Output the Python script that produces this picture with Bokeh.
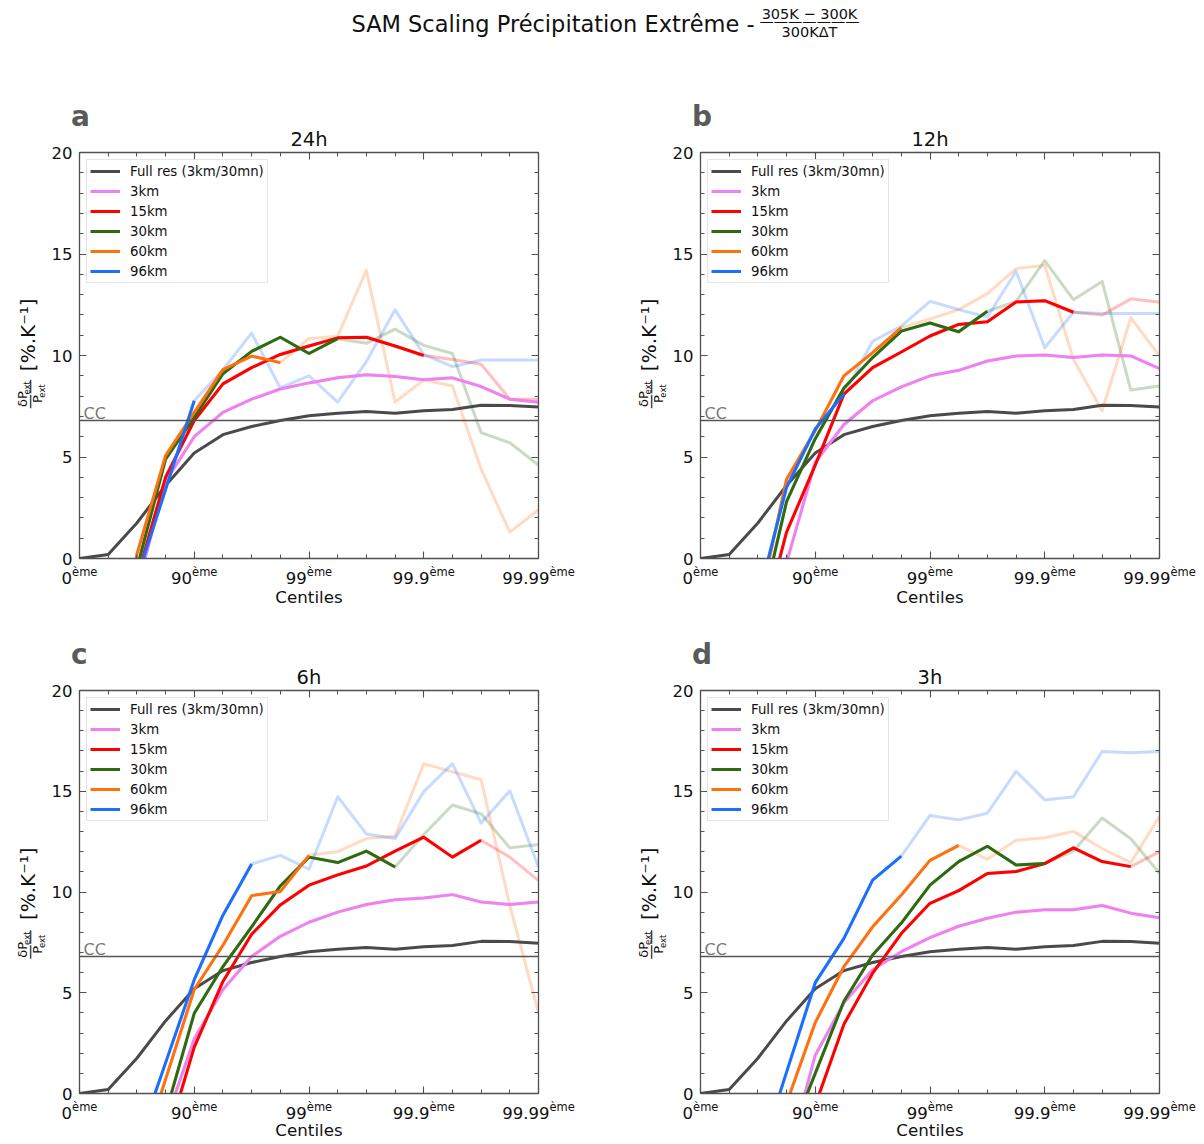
import numpy as np
from bokeh.plotting import figure
from bokeh.models import (Range1d, LinearAxis, FixedTicker, SingleIntervalTicker,
                          Span, Label, Legend, LegendItem, Title)
from bokeh.layouts import column, row
from bokeh.embed import file_html
from bokeh.resources import INLINE

NAN = float("nan")
NBSP = "\u00a0"

# ---------------- data ----------------
# x coordinate = -log10(1 - centile/100)
centile_pos = [0.0, 0.25, 0.5, 0.75, 1.0, 1.25, 1.5, 1.75, 2.0,
               2.25, 2.5, 2.75, 3.0, 3.25, 3.5, 3.75, 4.0]
tick_pos = [0, 1, 2, 3, 4]
tick_numbers = ["0", "90", "99", "99.9", "99.99"]
tick_suffix = "ème"

full_res_label = "Full res (3km/30mn)"
series_labels = ["3km", "15km", "30km", "60km", "96km"]
cc_rate = 6.8

full_res = [0.0, 0.2, 1.75, 3.6, 5.2, 6.1, 6.5, 6.8, 7.03, 7.16, 7.24, 7.16, 7.28, 7.34, 7.55, 7.54, 7.46]

# panel a : 24h
a_3km = [NAN, NAN, -1.5, 3.8, 6.0, 7.2, 7.85, 8.35, 8.65, 8.9, 9.05, 8.96, 8.8, 8.9, 8.47, 7.85, 7.7]
a_15km = [NAN, NAN, -1.0, 4.0, 6.8, 8.6, 9.4, 10.05, 10.47, 10.87, 10.9, 10.47, 10.0, 9.8, 9.57, 7.85, 7.85]
a_30km = [NAN, NAN, -0.5, 4.9, 6.95, 9.1, 10.2, 10.9, 10.1, 10.83, 10.6, 11.3, 10.5, 10.1, 6.2, 5.7, 4.6]
a_60km = [NAN, -8.0, 0.2, 5.07, 7.2, 9.3, 9.97, 9.65, 10.83, 10.95, 14.2, 7.7, 8.8, 8.5, 4.4, 1.3, 2.4]
a_96km = [NAN, NAN, -1.0, 3.4, 7.77, 9.3, 11.1, 8.4, 9.0, 7.7, 9.7, 12.25, 10.05, 9.45, 9.78, 9.78, 9.78]
a_valid_until = [4.0, 3.0, 2.25, 1.75, 1.0]

# panel b : 12h
b_3km = [NAN, NAN, -6.0, -0.2, 4.74, 6.6, 7.77, 8.45, 9.0, 9.27, 9.73, 9.98, 10.02, 9.9, 10.02, 9.98, 9.35]
b_15km = [NAN, NAN, -4.1, 1.3, 4.6, 8.1, 9.4, 10.17, 10.96, 11.53, 11.66, 12.64, 12.7, 12.13, 11.99, 12.79, 12.62]
b_30km = [NAN, NAN, -3.3, 2.8, 5.9, 8.4, 9.9, 11.2, 11.6, 11.17, 12.18, 12.67, 14.67, 12.75, 13.65, 8.3, 8.5]
b_60km = [NAN, NAN, -2.6, 3.9, 6.3, 9.0, 10.14, 11.37, 11.8, 12.26, 13.05, 14.28, 14.44, 9.81, 7.28, 11.86, 9.98]
b_96km = [NAN, NAN, -2.0, 3.5, 6.38, 8.1, 10.7, 11.45, 12.67, 12.26, 11.9, 14.15, 10.38, 12.13, 12.07, 12.07, 12.07]
b_valid_until = [4.0, 3.25, 2.5, 1.75, 1.25]

# panel c : 6h
c_3km = [NAN, NAN, NAN, -1.4, 2.7, 5.16, 6.8, 7.8, 8.5, 9.0, 9.38, 9.62, 9.7, 9.87, 9.5, 9.38, 9.5]
c_15km = [NAN, NAN, NAN, -2.5, 2.3, 5.56, 7.9, 9.36, 10.34, 10.85, 11.29, 12.03, 12.72, 11.73, 12.57, 11.73, 10.56]
c_30km = [NAN, NAN, NAN, -1.0, 3.98, 6.3, 8.27, 10.3, 11.73, 11.46, 12.03, 11.24, 12.85, 14.32, 13.88, 12.19, 12.36]
c_60km = [NAN, NAN, -3.7, 0.7, 5.16, 7.36, 9.82, 10.02, 11.82, 12.0, 12.65, 12.77, 16.37, 15.96, 15.58, 9.33, 4.0]
c_96km = [NAN, NAN, -2.6, 1.52, 5.65, 8.85, 11.39, 11.82, 11.13, 14.73, 12.88, 12.65, 14.98, 16.37, 13.42, 15.02, 11.24]
c_valid_until = [4.0, 3.5, 2.75, 2.0, 1.5]

# panel d : 3h
d_3km = [NAN, NAN, NAN, -3.4, 1.9, 4.5, 6.14, 7.04, 7.74, 8.3, 8.7, 9.0, 9.12, 9.12, 9.33, 8.95, 8.72]
d_15km = [NAN, NAN, NAN, -4.6, -0.58, 3.44, 5.97, 7.94, 9.44, 10.07, 10.92, 11.02, 11.41, 12.19, 11.51, 11.26, 12.0]
d_30km = [NAN, NAN, NAN, -2.6, 1.0, 4.58, 6.87, 8.46, 10.34, 11.51, 12.27, 11.34, 11.42, 12.03, 13.67, 12.64, 10.93]
d_60km = [NAN, NAN, -4.5, -0.48, 3.52, 6.3, 8.27, 9.85, 11.57, 12.31, 11.62, 12.57, 12.69, 13.01, 12.16, 11.46, 13.75]
d_96km = [NAN, NAN, -3.4, 1.06, 5.5, 7.7, 10.59, 11.78, 13.8, 13.58, 13.91, 15.99, 14.57, 14.73, 16.97, 16.91, 16.97]
d_valid_until = [4.0, 3.75, 3.0, 2.25, 1.75]

panel_letters = ["a", "b", "c", "d"]
panel_titles = ["24h", "12h", "6h", "3h"]
panel_series = [
    [a_3km, a_15km, a_30km, a_60km, a_96km],
    [b_3km, b_15km, b_30km, b_60km, b_96km],
    [c_3km, c_15km, c_30km, c_60km, c_96km],
    [d_3km, d_15km, d_30km, d_60km, d_96km],
]
panel_valid = [a_valid_until, b_valid_until, c_valid_until, d_valid_until]

# ---------------- style ----------------
FONT = "DejaVu Sans"
TXT = "#111111"
AX = "#505050"
FULL_COLOR = "#4a4a4a"
COLORS = ["#ee82ee", "#ff0000", "#2d6a10", "#ff7010", "#1a6fff"]
FRAME_W, FRAME_H = 459, 406
PX_X = FRAME_W / 4.0


def lab(**kw):
    base = dict(text_font=FONT, text_color=TXT, text_baseline="alphabetic")
    base.update(kw)
    return Label(**base)


def text_axis(ticks, overrides, fs, standoff):
    return LinearAxis(ticker=FixedTicker(ticks=ticks, minor_ticks=[]),
                      major_label_overrides=overrides,
                      major_label_standoff=standoff,
                      major_label_text_font=FONT,
                      major_label_text_font_size=f"{fs}px",
                      major_label_text_color=TXT,
                      axis_line_color=None, major_tick_line_color=None,
                      minor_tick_line_color=None, major_tick_in=0, major_tick_out=0,
                      minor_tick_in=0, minor_tick_out=0)


def blank_fig(w, h):
    return figure(width=w, height=h, x_range=Range1d(0, w), y_range=Range1d(0, h),
                  x_axis_type=None, y_axis_type=None, min_border=0, title=None,
                  outline_line_color=None, toolbar_location=None, output_backend="svg")


def ylabel_strip(w, h, bb, shift):
    """Rotated y label (dP_ext / P_ext) [%.K^-1] in a narrow strip left of a panel.
    Positions are centres of each piece: (px across, px above the panel frame bottom)."""
    s = blank_fig(w, h)
    rot = dict(angle=90, angle_units="deg", text_align="center")
    pieces = [("δP", 13, 22.2, 137.0), ("ext", 8.5, 26.9, 151.7),
              ("P", 13, 36.6, 137.0), ("ext", 8.5, 41.0, 147.7),
              ("——", 15, 29.9, 143.8), ("[%.K⁻¹]", 20, 27.7, 221.0)]
    for txt, fs, cx, cy in pieces:
        s.add_layout(lab(x=cx + shift, y=bb + cy, text=txt,
                         text_font_size=f"{fs}px", **rot))
    return s


def make_panel(letter, title, series, valid_until, lb, rb, tb, bb, centiles_standoff):
    p = figure(width=lb + FRAME_W + rb, height=tb + FRAME_H + bb,
               x_range=Range1d(0, 4), y_range=Range1d(0, 20),
               output_backend="svg", toolbar_location=None, title=None,
               min_border_left=lb, min_border_right=rb,
               min_border_top=tb, min_border_bottom=bb,
               outline_line_color=None,
               background_fill_color="white", border_fill_color="white")
    p.xgrid.visible = False
    p.ygrid.visible = False
    bottom = p.xaxis[0]
    left = p.yaxis[0]
    bottom.ticker = FixedTicker(ticks=tick_pos, minor_ticks=centile_pos)
    left.ticker = SingleIntervalTicker(interval=5, num_minor_ticks=5)
    top = LinearAxis(ticker=FixedTicker(ticks=tick_pos, minor_ticks=centile_pos))
    right = LinearAxis(ticker=SingleIntervalTicker(interval=5, num_minor_ticks=5))
    p.add_layout(top, "above")
    p.add_layout(right, "right")
    for ax in [bottom, left, top, right]:
        ax.axis_line_color = AX
        ax.axis_line_width = 1.3
        ax.major_tick_line_color = AX
        ax.minor_tick_line_color = AX
        ax.major_tick_line_width = 1.1
        ax.minor_tick_line_width = 1.0
        ax.major_tick_in = 7
        ax.major_tick_out = 0
        ax.minor_tick_in = 4
        ax.minor_tick_out = 0
    for ax in [bottom, top, right]:
        ax.major_label_text_font_size = "1px"
        ax.major_label_text_color = None
        ax.major_label_standoff = 0
    left.major_label_text_font = FONT
    left.major_label_text_font_size = "16.5px"
    left.major_label_text_color = TXT
    left.major_label_standoff = 7

    # x tick labels "90" + superscript "ème" : two label-only axes
    fs_n, fs_s = 16.5, 11.5
    w2 = fs_s * 2.204
    sp_n, sp_s = 0.318 * fs_n, 0.318 * fs_s
    suf_ticks, suf_over, num_ticks, num_over = [], {}, [], {}
    for tp, num in zip(tick_pos, tick_numbers):
        w1 = fs_n * (0.636 * sum(ch.isdigit() for ch in num) + 0.318 * num.count("."))
        c_num = tp * PX_X - w2 / 2.0      # wanted centre of the number (px from frame left)
        c_suf = tp * PX_X + w1 / 2.0      # wanted centre of the suffix
        t_num, t_suf = num, tick_suffix
        if c_num < 1:                     # pad with no-break spaces to stay inside range
            k = int(round((4 - c_num) * 2 / sp_n))
            c_num += k * sp_n / 2.0
            t_num = num + NBSP * k
        if c_suf > FRAME_W - 1:
            k = int(round((c_suf - (FRAME_W - 3)) * 2 / sp_s))
            c_suf -= k * sp_s / 2.0
            t_suf = NBSP * k + tick_suffix
        vn = round(c_num / PX_X, 5)
        vs = round(c_suf / PX_X, 5)
        num_ticks.append(vn)
        num_over[vn] = t_num
        suf_ticks.append(vs)
        suf_over[vs] = t_suf
    ax_suf = text_axis(suf_ticks, suf_over, fs_s, 6)
    ax_num = text_axis(num_ticks, num_over, fs_n, -13)
    ax_num.axis_label = "Centiles"
    ax_num.axis_label_text_font = FONT
    ax_num.axis_label_text_font_size = "16.7px"
    ax_num.axis_label_text_font_style = "normal"
    ax_num.axis_label_text_color = TXT
    ax_num.axis_label_standoff = centiles_standoff
    p.add_layout(ax_suf, "below")
    p.add_layout(ax_num, "below")

    # subplot title and panel letter (stacked above the top axis)
    p.add_layout(Title(text=title, align="center", vertical_align="bottom",
                       standoff=3, text_font=FONT, text_font_size="19.5px",
                       text_font_style="normal", text_color=TXT), "above")
    p.add_layout(Title(text=letter, align="left", vertical_align="bottom",
                       offset=-8.5, standoff=-17, text_font=FONT,
                       text_font_size="28px", text_font_style="bold",
                       text_color="#5a5a5a"), "above")

    x = np.array(centile_pos, dtype=float)
    for vals, col in zip(series, COLORS):
        p.line(x, np.array(vals, dtype=float), line_color=col, line_width=3,
               line_alpha=0.25, line_join="round")
    items = []
    r_full = p.line(x, np.array(full_res, dtype=float), line_color=FULL_COLOR,
                    line_width=3, line_join="round")
    items.append(LegendItem(label=full_res_label, renderers=[r_full]))
    for vals, col, until, name in zip(series, COLORS, valid_until, series_labels):
        mask = x <= until + 1e-9
        r = p.line(x[mask], np.array(vals, dtype=float)[mask], line_color=col,
                   line_width=3, line_join="round")
        items.append(LegendItem(label=name, renderers=[r]))

    p.add_layout(Span(location=cc_rate, dimension="width", line_color="#555555",
                      line_width=1.5))
    p.add_layout(lab(x=0, y=cc_rate, text="CC", x_offset=4, y_offset=7,
                     text_font_size="16px", text_color="#7a7a7a"))

    leg = Legend(items=items, location="top_left", margin=7, padding=3,
                 spacing=4, glyph_width=30, glyph_height=16, label_height=16,
                 label_standoff=10, label_text_font=FONT,
                 label_text_font_size="13.3px", label_text_color=TXT,
                 border_line_color="#cccccc", border_line_width=1,
                 background_fill_color="white", background_fill_alpha=0.85)
    p.add_layout(leg)
    return p


# layout geometry (page px): frames at x=79 / 700, y=152 / 690
SA, SB = 46, 60                  # y-label strip widths
LB_A, LB_B = 79 - SA, 92 - SB    # remaining left borders
TB1, BB1, TB2, BB2 = 53, 71, 61, 46
H1, H2 = TB1 + FRAME_H + BB1, TB2 + FRAME_H + BB2

pa = make_panel(panel_letters[0], panel_titles[0], panel_series[0], panel_valid[0], LB_A, 70, TB1, BB1, -4)
pb = make_panel(panel_letters[1], panel_titles[1], panel_series[1], panel_valid[1], LB_B, 37, TB1, BB1, -4)
pc = make_panel(panel_letters[2], panel_titles[2], panel_series[2], panel_valid[2], LB_A, 70, TB2, BB2, -6)
pd = make_panel(panel_letters[3], panel_titles[3], panel_series[3], panel_valid[3], LB_B, 37, TB2, BB2, -6)

# strip a starts at page x 0 ; strip b at page x 608 while frame b is 621 px right of frame a
sa = ylabel_strip(SA, H1, BB1, 0)
sb = ylabel_strip(SB, H1, BB1, 13)
sc = ylabel_strip(SA, H2, BB2, 0)
sd = ylabel_strip(SB, H2, BB2, 13)

# ---------------- header ----------------
HW, HH = 1196, 99
head = blank_fig(HW, HH)
head.add_layout(lab(x=754, y=76, text="SAM Scaling Précipitation Extrême -",
                    text_align="right", text_font_size="22.5px"))
head.add_layout(lab(x=809, y=86, text="305K − 300K", text_align="center",
                    text_font_size="14.5px"))
head.add_layout(lab(x=809, y=77.1, text="———————", text_align="center",
                    text_font_size="14.3px"))
head.add_layout(lab(x=809, y=67.5, text="300KΔT", text_align="center",
                    text_font_size="14.5px"))

layout = column(head, row(sa, pa, sb, pb), row(sc, pc, sd, pd))
open("out.html", "w").write(file_html(layout, INLINE))
